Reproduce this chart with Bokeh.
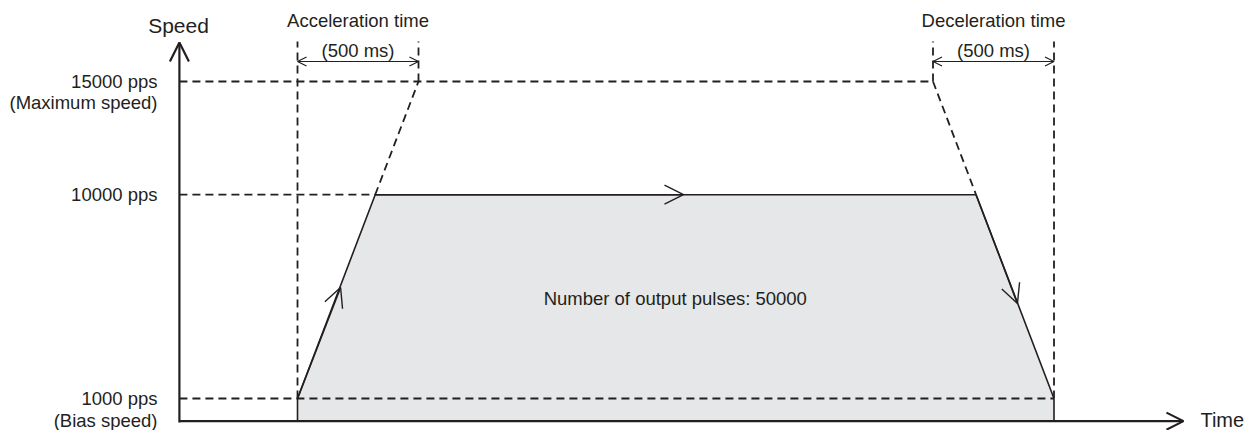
from bokeh.plotting import figure
from bokeh.models import Range1d, Arrow, OpenHead, ColumnDataSource
from bokeh.embed import file_html
from bokeh.resources import INLINE
from bokeh.core.properties import value

# ---------------- data (time in ms, speed in pps) ----------------
speed_levels = [15000, 10000, 1000]
speed_labels = ["15000 pps", "10000 pps", "1000 pps"]
speed_notes = ["(Maximum speed)", "(Bias speed)"]
note_speeds = [14072, 28]

profile_time = [0, 321, 2804, 3126]
profile_speed = [1000, 10000, 10000, 1000]

accel_window = [0, 500]
decel_window = [2626, 3126]
window_titles = ["Acceleration time", "Deceleration time"]
window_values = ["(500 ms)", "(500 ms)"]

ext_acc_time = [321, 500]
ext_acc_speed = [10000, 15000]
ext_dec_time = [2626, 2804]
ext_dec_speed = [15000, 10000]

dir_from_time = [0, 321, 2804]
dir_from_speed = [1000, 10000, 10000]
dir_time = [178, 1595, 2975]
dir_speed = [5900, 10000, 5200]

pulse_text = "Number of output pulses: 50000"

# ---------------- layout constants ----------------
W, H = 1257, 430
INK = "#231f20"
FILL = "#e6e7e8"
FONT = "Liberation Sans"
X0, X1 = -1227.3, 3966.9
Y0, Y1 = -413.4, 18577.0
AX_T = -488          # time position of the speed axis
AX_TOP = 16722       # top of speed axis arrow
AX_END = 3661        # end of time axis arrow
DASH_TOP = 16766     # top of vertical guide lines
SPAN_Y = 15883       # level of the double arrows
LABEL_T = -578.5     # right edge of speed labels

p = figure(width=W, height=H, x_range=Range1d(X0, X1), y_range=Range1d(Y0, Y1),
           output_backend="svg", toolbar_location=None,
           x_axis_location=None, y_axis_location=None, min_border=0)
p.grid.visible = False
p.outline_line_color = None
p.background_fill_color = "white"
p.border_fill_color = "white"

# shaded area under profile
p.patch([profile_time[0]] + profile_time + [profile_time[-1]],
        [0] + profile_speed + [0], fill_color=FILL, line_color=None)

dash = "8 5"
dw = 1.8
# horizontal guides
p.segment(x0=[AX_T] * 3, y0=speed_levels,
          x1=[decel_window[0], profile_time[1], profile_time[-1]], y1=speed_levels,
          line_color=INK, line_width=dw, line_dash=dash)
# vertical guides
p.segment(x0=[accel_window[0], accel_window[1], decel_window[0], decel_window[1]],
          y0=[profile_speed[0], speed_levels[0], speed_levels[0], profile_speed[-1]],
          x1=[accel_window[0], accel_window[1], decel_window[0], decel_window[1]],
          y1=[DASH_TOP] * 4, line_color=INK, line_width=dw, line_dash=dash)
# extrapolated ramps to maximum speed
p.line(ext_acc_time, ext_acc_speed, line_color=INK, line_width=dw, line_dash=dash)
p.line(ext_dec_time, ext_dec_speed, line_color=INK, line_width=dw, line_dash=dash)

# speed profile
p.line(profile_time, profile_speed, line_color=INK, line_width=1.6)
p.segment(x0=[profile_time[0], profile_time[-1]], y0=[0, 0],
          x1=[profile_time[0], profile_time[-1]], y1=[profile_speed[0], profile_speed[-1]],
          line_color=INK, line_width=1.6)

# axes with arrow heads
p.add_layout(Arrow(end=OpenHead(size=19, line_width=2.2, line_color=INK),
                   x_start=AX_T, y_start=-60, x_end=AX_T, y_end=AX_TOP,
                   line_width=2.2, line_color=INK))
p.add_layout(Arrow(end=OpenHead(size=17, line_width=2.2, line_color=INK),
                   x_start=AX_T, y_start=0, x_end=AX_END, y_end=0,
                   line_width=2.2, line_color=INK))

# double arrows for acceleration / deceleration time
for win in (accel_window, decel_window):
    p.add_layout(Arrow(start=OpenHead(size=9, line_width=1.2, line_color=INK),
                       end=OpenHead(size=9, line_width=1.2, line_color=INK),
                       x_start=win[0], y_start=SPAN_Y, x_end=win[1], y_end=SPAN_Y,
                       line_width=1.2, line_color=INK))

# direction chevrons on the profile
dsrc = ColumnDataSource(dict(xs=dir_from_time, ys=dir_from_speed, xe=dir_time, ye=dir_speed))
p.add_layout(Arrow(end=OpenHead(size=19, line_width=1.4, line_color=INK),
                   x_start="xs", y_start="ys", x_end="xe", y_end="ye",
                   source=dsrc, line_width=1.6, line_color=INK))

# texts
fs = "18.5px"
p.text(x=[LABEL_T] * 3, y=speed_levels, text=speed_labels, text_align="right",
       text_baseline="middle", text_font=value(FONT), text_font_size=fs, text_color=INK)
p.text(x=[LABEL_T] * 2, y=note_speeds, text=speed_notes, text_align="right",
       text_baseline="middle", text_font=value(FONT), text_font_size=fs, text_color=INK)
mid = [(accel_window[0] + accel_window[1]) / 2, (decel_window[0] + decel_window[1]) / 2]
p.text(x=mid, y=[17672] * 2, text=window_titles, text_align="center",
       text_baseline="middle", text_font=value(FONT), text_font_size=fs, text_color=INK)
p.text(x=mid, y=[16347] * 2, text=window_values, text_align="center",
       text_baseline="middle", text_font=value(FONT), text_font_size=fs, text_color=INK)
p.text(x=[1561], y=[5403], text=[pulse_text], text_align="center",
       text_baseline="middle", text_font=value(FONT), text_font_size=fs, text_color=INK)
p.text(x=[-491.7], y=[17473], text=["Speed"], text_align="center",
       text_baseline="middle", text_font=value(FONT), text_font_size="21px", text_color=INK)
p.text(x=[3731], y=[50], text=["Time"], text_align="left",
       text_baseline="middle", text_font=value(FONT), text_font_size="20px", text_color=INK)

open("out.html", "w").write(file_html(p, INLINE))
